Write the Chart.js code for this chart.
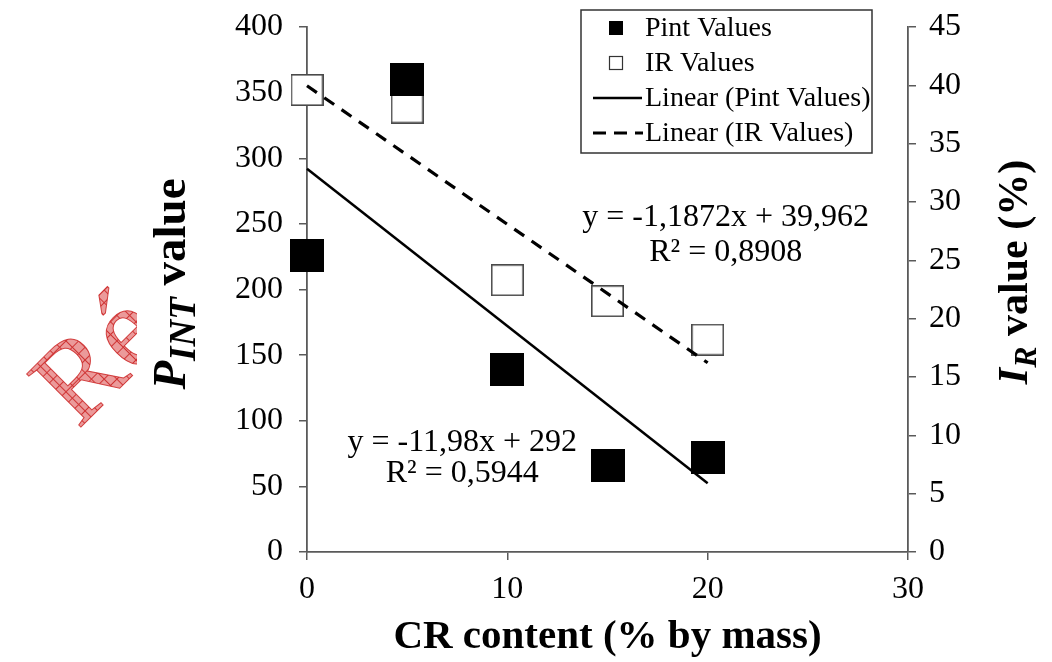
<!DOCTYPE html>
<html><head><meta charset="utf-8">
<script src="https://cdn.jsdelivr.net/npm/chart.js@4.4.1/dist/chart.umd.min.js"></script>
<style>html,body{margin:0;padding:0;background:#fff;overflow:hidden}#wrap{position:relative;width:1052px;height:662px}</style>
</head><body><div id="wrap"><canvas id="c" width="1052" height="662"></canvas></div>
<script>
// ---- data ----
const crContent = [0, 5, 10, 15, 20];
const pintValues = [226, 360, 139, 66, 72];
const irValues = [39.6, 38.1, 23.3, 21.5, 18.2];
const trendX = [0, 20];
const pintTrendY = [292, 52.4];
const irTrendY = [39.962, 16.218];
const xTicks = [0, 10, 20, 30];
const leftTicks = [0, 50, 100, 150, 200, 250, 300, 350, 400];
const rightTicks = [0, 5, 10, 15, 20, 25, 30, 35, 40, 45];
const seriesNames = ['Pint Values', 'IR Values', 'Linear (Pint Values)', 'Linear (IR Values)'];
const eqPint = ['y = -11,98x + 292', 'R\u00B2 = 0,5944'];
const eqIR = ['y = -1,1872x + 39,962', 'R\u00B2 = 0,8908'];
const xTitle = 'CR content (% by mass)';
const watermark = 'R\u00E9';

// ---- styling ----
const SERIF = '"Liberation Serif", "Times New Roman", "DejaVu Serif", serif';
const AXIS = '#5a5a5a';
Chart.defaults.font.family = SERIF;
Chart.defaults.color = '#000';

function squareImg(w, h, filled) {
  const c = document.createElement('canvas'); c.width = w; c.height = h;
  const g = c.getContext('2d');
  if (filled) { g.fillStyle = '#000'; g.fillRect(0, 0, w, h); }
  else {
    g.fillStyle = '#fff'; g.fillRect(0, 0, w, h);
    g.strokeStyle = '#4a4a4a'; g.lineWidth = 1.6; g.strokeRect(0.8, 0.8, w - 1.6, h - 1.6);
  }
  return c;
}
const bigFilled = squareImg(34, 33, true);
const bigOpen = squareImg(33, 32, false);

function fixedTicks(arr) { return s => { s.ticks = arr.map(v => ({ value: v })); }; }
function noPad(s) { s.paddingTop = 0; s.paddingBottom = 0; s.paddingLeft = 0; s.paddingRight = 0; }

const watermarkPlugin = {
  id: 'wm',
  beforeDraw(chart) {
    const ctx = chart.ctx;
    const p = document.createElement('canvas'); p.width = 9; p.height = 9;
    const g = p.getContext('2d');
    g.fillStyle = '#eb9a9a'; g.fillRect(0, 0, 9, 9);
    g.fillStyle = '#cf3434'; g.fillRect(0, 0, 9, 1); g.fillRect(0, 0, 1, 9);
    const pat = ctx.createPattern(p, 'repeat');
    ctx.save();
    ctx.beginPath(); ctx.rect(0, 0, 137, 662); ctx.clip();
    ctx.translate(78, 430);
    ctx.rotate(-45 * Math.PI / 180);
    ctx.font = '116px ' + SERIF;
    ctx.textBaseline = 'alphabetic'; ctx.textAlign = 'left';
    ctx.fillStyle = pat;
    ctx.fillText(watermark, 0, 0);
    ctx.strokeStyle = 'rgba(205,40,40,0.85)'; ctx.lineWidth = 1;
    ctx.strokeText(watermark, 0, 0);
    ctx.restore();
  }
};

const textPlugin = {
  id: 'texts',
  afterDraw(chart) {
    const ctx = chart.ctx;
    const xs = chart.scales.x, ys = chart.scales.y;
    ctx.save();
    ctx.fillStyle = '#000';
    ctx.textAlign = 'center'; ctx.textBaseline = 'middle';
    // trendline equations
    ctx.font = '32px ' + SERIF;
    const px1 = xs.getPixelForValue(7.75);
    ctx.fillText(eqPint[0], px1, ys.getPixelForValue(83));
    ctx.fillText(eqPint[1], px1, ys.getPixelForValue(60));
    const px2 = xs.getPixelForValue(20.9);
    ctx.fillText(eqIR[0], px2, ys.getPixelForValue(255));
    ctx.fillText(eqIR[1], px2, ys.getPixelForValue(228));

    // x title
    ctx.font = 'bold 41px ' + SERIF;
    ctx.textBaseline = 'alphabetic';
    ctx.fillText(xTitle, (chart.chartArea.left + chart.chartArea.right) / 2, 648);

    // rotated title helper
    function rotTitle(cx, cy, size, subSize, mainTxt, subTxt, rest) {
      ctx.save();
      ctx.translate(cx, cy);
      ctx.rotate(-Math.PI / 2);
      ctx.textAlign = 'left'; ctx.textBaseline = 'alphabetic';
      const fMain = 'italic bold ' + size + 'px ' + SERIF, fSub = 'italic bold ' + subSize + 'px ' + SERIF, fRest = 'bold ' + size + 'px ' + SERIF;
      ctx.font = fMain; const w1 = ctx.measureText(mainTxt).width;
      ctx.font = fSub; const w2 = ctx.measureText(subTxt).width;
      ctx.font = fRest; const w3 = ctx.measureText(rest).width;
      let x = -(w1 + w2 + w3) / 2;
      ctx.font = fMain; ctx.fillText(mainTxt, x, 0); x += w1;
      ctx.font = fSub; ctx.fillText(subTxt, x, size * 0.22); x += w2;
      ctx.font = fRest; ctx.fillText(rest, x, 0);
      ctx.restore();
    }
    rotTitle(185, 284, 47, 37, 'P', 'INT', ' value');
    rotTitle(1027, 272, 42, 32, 'I', 'R', ' value (%)');

    // legend
    const L = 581, T = 10, R = 872, B = 153;
    ctx.fillStyle = '#fff'; ctx.fillRect(L, T, R - L, B - T);
    ctx.strokeStyle = '#333'; ctx.lineWidth = 1.5; ctx.strokeRect(L, T, R - L, B - T);
    const rows = [28, 63, 98, 133];
    ctx.textAlign = 'left'; ctx.textBaseline = 'middle';
    ctx.fillStyle = '#000'; ctx.fillRect(609, rows[0] - 7, 14, 14);
    ctx.fillStyle = '#fff'; ctx.fillRect(609, rows[1] - 7, 14, 14);
    ctx.strokeStyle = '#333'; ctx.lineWidth = 1.2; ctx.strokeRect(609.5, rows[1] - 6.5, 13, 13);
    ctx.strokeStyle = '#000'; ctx.lineWidth = 2.5;
    ctx.beginPath(); ctx.moveTo(593, rows[2]); ctx.lineTo(642, rows[2]); ctx.stroke();
    ctx.lineWidth = 3.2; ctx.setLineDash([13, 8]);
    ctx.beginPath(); ctx.moveTo(593, rows[3]); ctx.lineTo(643, rows[3]); ctx.stroke();
    ctx.setLineDash([]);
    ctx.fillStyle = '#000';
    ctx.font = '28px ' + SERIF;
    seriesNames.forEach((n, i) => ctx.fillText(n, 645, rows[i] + 1));
    ctx.restore();
  }
};

new Chart(document.getElementById('c'), {
  type: 'scatter',
  data: {
    datasets: [
      { label: seriesNames[2], type: 'line', data: trendX.map((x, i) => ({ x, y: pintTrendY[i] })),
        yAxisID: 'y', borderColor: '#000', borderWidth: 2.5, pointRadius: 0, fill: false, order: 1, clip: false },
      { label: seriesNames[3], type: 'line', data: trendX.map((x, i) => ({ x, y: irTrendY[i] })),
        yAxisID: 'y1', borderColor: '#000', borderWidth: 3.2, borderDash: [12, 9], pointRadius: 0, fill: false, order: 2, clip: false },
      { label: seriesNames[0], data: crContent.map((x, i) => ({ x, y: pintValues[i] })),
        yAxisID: 'y', pointStyle: bigFilled, pointRadius: 16, order: 3, clip: false },
      { label: seriesNames[1], data: crContent.map((x, i) => ({ x, y: irValues[i] })),
        yAxisID: 'y1', pointStyle: bigOpen, pointRadius: 16, order: 4, clip: false }
    ]
  },
  options: {
    responsive: false, animation: false, devicePixelRatio: 1, events: [],
    layout: { padding: { top: 27, left: 0, right: 0, bottom: 0 } },
    plugins: { legend: { display: false }, tooltip: { enabled: false } },
    scales: {
      x: {
        type: 'linear', position: 'bottom', min: 0, max: 30,
        afterBuildTicks: fixedTicks(xTicks),
        afterFit: s => { s.height = 110; noPad(s); },
        grid: { display: true, drawOnChartArea: false, drawTicks: true, tickLength: 8, color: AXIS, lineWidth: 1.5 },
        border: { display: true, color: AXIS, width: 1.8 },
        ticks: { font: { size: 32 }, color: '#000', padding: 10, maxRotation: 0 }
      },
      y: {
        type: 'linear', position: 'left', min: 0, max: 400,
        afterBuildTicks: fixedTicks(leftTicks),
        afterFit: s => { s.width = 307; noPad(s); },
        grid: { display: true, drawOnChartArea: false, drawTicks: true, tickLength: 8, color: AXIS, lineWidth: 1.5 },
        border: { display: true, color: AXIS, width: 1.8 },
        ticks: { font: { size: 32 }, color: '#000', padding: 16 }
      },
      y1: {
        type: 'linear', position: 'right', min: 0, max: 45,
        afterBuildTicks: fixedTicks(rightTicks),
        afterFit: s => { s.width = 1052 - 908; noPad(s); },
        grid: { display: true, drawOnChartArea: false, drawTicks: true, tickLength: 8, color: AXIS, lineWidth: 1.5 },
        border: { display: true, color: AXIS, width: 1.8 },
        ticks: { font: { size: 32 }, color: '#000', padding: 13 }
      }
    }
  },
  plugins: [watermarkPlugin, textPlugin]
});
</script></body></html>
